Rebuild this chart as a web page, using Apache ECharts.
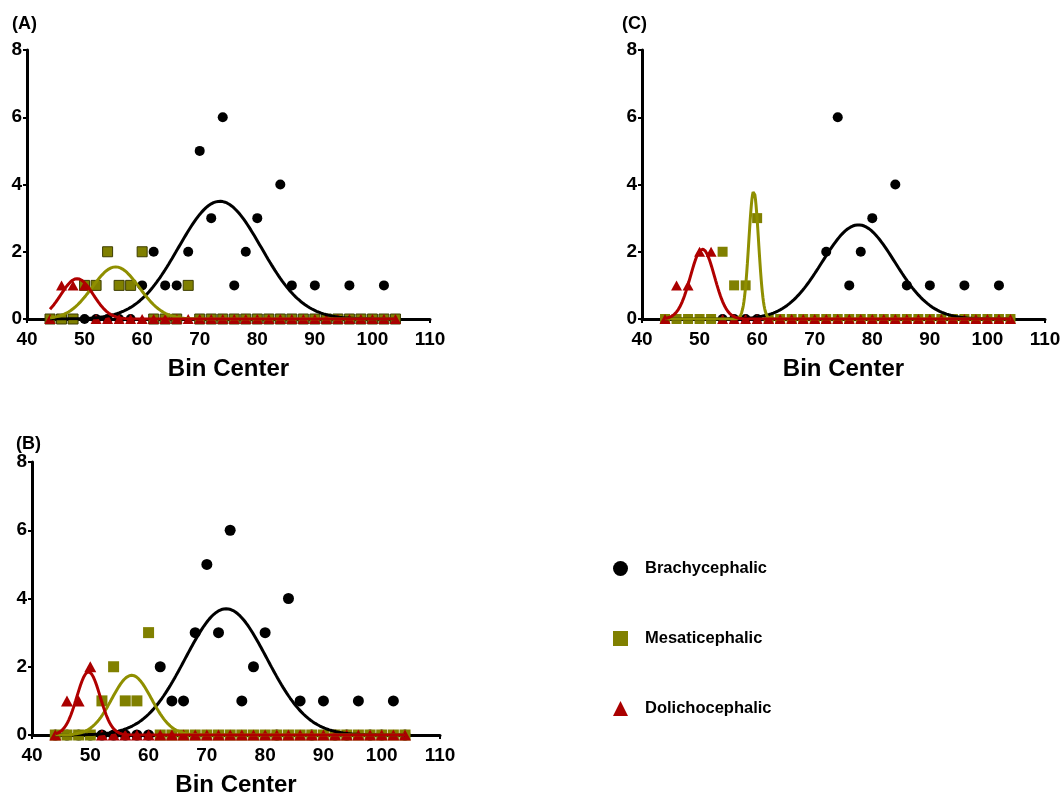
<!DOCTYPE html>
<html>
<head>
<meta charset="utf-8">
<script src="https://cdn.jsdelivr.net/npm/echarts@6/dist/echarts.min.js"></script>
<style>
html,body{margin:0;padding:0;background:#fff;}
#chart{width:1063px;height:796px;}
</style>
</head>
<body>
<div id="chart"></div>
<script>
// Bin centers (x values)
const bins = [44,46,48,50,52,54,56,58,60,62,64,66,68,70,72,74,76,78,80,82,84,86,88,90,92,94,96,98,100,102,104];
const xTicks = [40,50,60,70,80,90,100,110];
const yTicks = [0,2,4,6,8];
const seriesNames = ['Brachycephalic','Mesaticephalic','Dolichocephalic'];
const panelLabels = ['(A)','(B)','(C)'];

// Panel A counts
const aBrachy = [0,0,0,0,0,0,0,0,1,2,1,1,2,5,3,6,1,2,3,0,4,1,0,1,0,0,1,0,0,1,0];
const aMeso   = [0,0,0,1,1,2,1,1,2,0,0,0,1,0,0,0,0,0,0,0,0,0,0,0,0,0,0,0,0,0,0];
const aDoli   = [0,1,1,1,0,0,0,0,0,0,0,0,0,0,0,0,0,0,0,0,0,0,0,0,0,0,0,0,0,0,0];
// Panel B counts
const bBrachy = [0,0,0,0,0,0,0,0,0,2,1,1,3,5,3,6,1,2,3,0,4,1,0,1,0,0,1,0,0,1,0];
const bMeso   = [0,0,0,0,1,2,1,1,3,0,0,0,0,0,0,0,0,0,0,0,0,0,0,0,0,0,0,0,0,0,0];
const bDoli   = [0,1,1,2,0,0,0,0,0,0,0,0,0,0,0,0,0,0,0,0,0,0,0,0,0,0,0,0,0,0,0];
// Panel C counts
const cBrachy = [0,0,0,0,0,0,0,0,0,0,0,0,0,0,2,6,1,2,3,0,4,1,0,1,0,0,1,0,0,1,0];
const cMeso   = [0,0,0,0,0,2,1,1,3,0,0,0,0,0,0,0,0,0,0,0,0,0,0,0,0,0,0,0,0,0,0];
const cDoli   = [0,1,1,2,2,0,0,0,0,0,0,0,0,0,0,0,0,0,0,0,0,0,0,0,0,0,0,0,0,0,0];

// Gaussian fit parameters: [amplitude, mean, SD]
const aFitBrachy = [3.5, 73.5, 7.2];
const aFitMeso   = [1.55, 55.4, 4.1];
const aFitDoli   = [1.2, 48.7, 2.8];
const bFitBrachy = [3.7, 73.3, 7.0];
const bFitMeso   = [1.75, 57.1, 3.4];
const bFitDoli   = [1.85, 49.7, 2.0];
const cFitBrachy = [2.8, 77.6, 6.3];
const cFitMeso   = [3.8, 59.4, 0.85];
const cFitDoli   = [2.08, 50.5, 2.1];

const colors = ['#000000', '#808000', '#aa0000'];
const lineColors = ['#000000', '#8f8f00', '#b00000'];

function curve(p) {
  const out = [];
  for (let i = 0; i <= 600; i++) {
    const x = 44 + i * 0.1;
    out.push([x, p[0] * Math.exp(-0.5 * Math.pow((x - p[1]) / p[2], 2))]);
  }
  return out;
}
function pts(vals) { return bins.map((b, i) => [b, vals[i]]); }

const panels = [
  {counts:[aBrachy,aMeso,aDoli], fits:[aFitBrachy,aFitMeso,aFitDoli], grid:{left:27, top:50, width:403, height:269}, sizes:[10,10,[11,10]], label:{left:12, top:15}},
  {counts:[bBrachy,bMeso,bDoli], fits:[bFitBrachy,bFitMeso,bFitDoli], grid:{left:32, top:462, width:408, height:273}, sizes:[11,11,[12,11]], label:{left:16, top:435}},
  {counts:[cBrachy,cMeso,cDoli], fits:[cFitBrachy,cFitMeso,cFitDoli], grid:{left:642, top:50, width:403, height:269}, sizes:[10,10,[11,10]], label:{left:622, top:15}}
];

const grids = [], xAxes = [], yAxes = [], series = [], titles = [];
const symbols = ['circle','rect','triangle'];
panels.forEach((p, k) => {
  grids.push(Object.assign({outerBoundsMode: 'none', containLabel: false}, p.grid));
  titles.push({text: panelLabels[k], left: p.label.left, top: p.label.top, padding: 0,
    textStyle: {fontFamily: 'Liberation Sans', fontWeight: 'bold', fontSize: 18, color: '#000'}});
  xAxes.push({gridIndex: k, type: 'value', min: xTicks[0], max: xTicks[xTicks.length-1], interval: 10,
    name: 'Bin Center', nameLocation: 'middle', nameGap: 38,
    nameTextStyle: {fontFamily: 'Liberation Sans', fontWeight: 'bold', fontSize: 24, color: '#000'},
    axisLine: {onZero: false, lineStyle: {color: '#000', width: 3}},
    axisTick: {show: true, length: 4, lineStyle: {color: '#000', width: 2}},
    axisLabel: {margin: 11, fontFamily: 'Liberation Sans', fontWeight: 'bold', fontSize: 19, color: '#000'},
    splitLine: {show: false}});
  yAxes.push({gridIndex: k, type: 'value', min: yTicks[0], max: yTicks[yTicks.length-1], interval: 2,
    axisLine: {show: true, lineStyle: {color: '#000', width: 3}},
    axisTick: {show: true, length: 4, lineStyle: {color: '#000', width: 2}},
    axisLabel: {margin: 5, fontFamily: 'Liberation Sans', fontWeight: 'bold', fontSize: 19, color: '#000'},
    splitLine: {show: false}});
  for (let s = 0; s < 3; s++) {
    series.push({type: 'scatter', name: seriesNames[s], xAxisIndex: k, yAxisIndex: k,
      symbol: symbols[s], symbolSize: p.sizes[s], data: pts(p.counts[s]),
      itemStyle: {color: colors[s], opacity: 1,
        borderColor: (k === 0 && s === 1) ? '#3d3d00' : colors[s], borderWidth: (k === 0 && s === 1) ? 1 : 0},
      z: 2 + s, silent: true, animation: false});
  }
  for (let s = 0; s < 3; s++) {
    series.push({type: 'line', name: seriesNames[s] + ' fit', xAxisIndex: k, yAxisIndex: k,
      data: curve(p.fits[s]), showSymbol: false, symbol: 'none',
      lineStyle: {color: lineColors[s], width: 3}, z: 6 + s, silent: true, animation: false});
  }
});

const chart = echarts.init(document.getElementById('chart'), null, {renderer: 'canvas'});
chart.setOption({
  backgroundColor: '#ffffff',
  animation: false,
  title: titles,
  grid: grids,
  xAxis: xAxes,
  yAxis: yAxes,
  legend: {
    orient: 'vertical', left: 608, top: 555, itemGap: 53, itemWidth: 15, itemHeight: 15,
    selectedMode: false,
    itemStyle: {borderWidth: 0},
    data: [
      {name: seriesNames[0], icon: 'circle'},
      {name: seriesNames[1], icon: 'rect'},
      {name: seriesNames[2], icon: 'triangle'}
    ],
    textStyle: {fontFamily: 'Liberation Sans', fontWeight: 'bold', fontSize: 16.5, color: '#000', padding: [0,0,0,12]}
  },
  series: series
});
</script>
</body>
</html>
